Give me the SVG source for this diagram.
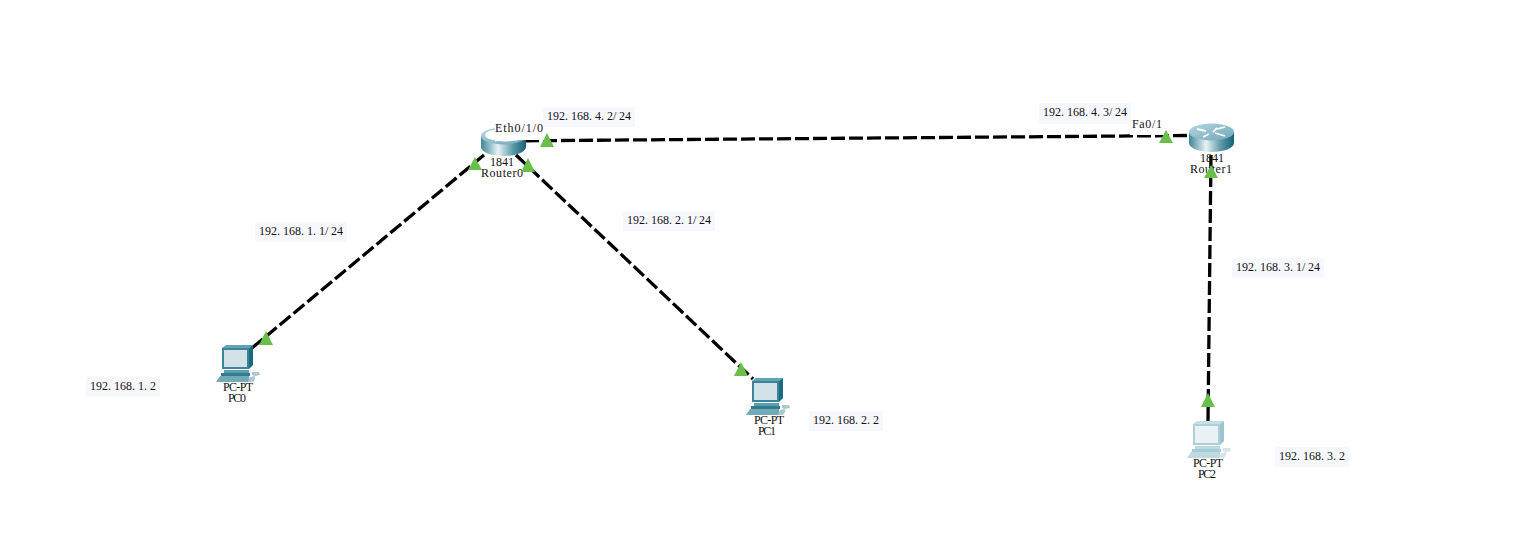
<svg xmlns="http://www.w3.org/2000/svg" width="1515" height="555" viewBox="0 0 1515 555">
<style>
text{font-family:"Liberation Serif","Noto Sans CJK SC",serif;font-size:12px;fill:#111;text-anchor:middle}
.ip{text-anchor:start}
.box{fill:#f7f8fe}
.link{fill:none;stroke:#000;stroke-width:3.300;stroke-dasharray:14 4}
.tri{fill:#6abf4b}
.wipe{fill:#fff}
</style>
<defs>
<linearGradient id="side" x1="0" x2="1" y1="0" y2="0">
<stop offset="0" stop-color="#3f8599"/><stop offset=".38" stop-color="#e8f2f4"/><stop offset=".7" stop-color="#5f9bab"/><stop offset="1" stop-color="#176177"/>
</linearGradient>
<linearGradient id="top" x1="0" x2="1" y1="0" y2="1">
<stop offset="0" stop-color="#b4d6e0"/><stop offset="1" stop-color="#6fa8b9"/>
</linearGradient>
<g id="router">
<path d="M0 9V20C0 25 10 29 22.500 29S45 25 45 20V9Z" fill="url(#side)"/>
<ellipse cx="22.500" cy="9" rx="22.500" ry="8.500" fill="url(#top)"/>
<path d="M8 6l9 2M14 14l6-3M24 9l4-4M26 10l10 3M36 4l-8 2" stroke="#fff" stroke-width="1.800" fill="none"/>
</g>
<g id="pc">
<path d="M6 3L10 0H37L33 3Z" fill="#62a4b6"/>
<path d="M33 3L37 0V20L33 24Z" fill="#1b6a80"/>
<rect x="6" y="3" width="27" height="21" fill="#3a8599"/>
<rect x="8" y="5" width="23" height="17" fill="#d3e2e9"/>
<rect x="8" y="25" width="25" height="3" fill="#5c9eb0"/>
<rect x="5" y="28" width="29" height="3" fill="#2f7c90"/>
<path d="M4 31H33L34 37H0Z" fill="#74a9b7"/>
<path d="M36 27h7l1 3-5 1-3-1zM34 32l5-1v3l-2 3h-5z" fill="#a9c8d0"/>
</g>
<g id="pcl">
<path d="M6 3L10 0H37L33 3Z" fill="#c6dfe7"/>
<path d="M33 3L37 0V20L33 24Z" fill="#9cc3cf"/>
<rect x="6" y="3" width="27" height="21" fill="#aed0db"/>
<rect x="8" y="5" width="23" height="17" fill="#e9f1f5"/>
<rect x="8" y="25" width="25" height="3" fill="#bcd8e0"/>
<rect x="5" y="28" width="29" height="3" fill="#a5cbd6"/>
<path d="M4 31H33L34 37H0Z" fill="#bfd9e0"/>
<path d="M36 27h7l1 3-5 1-3-1zM34 32l5-1v3l-2 3h-5z" fill="#d5e5ea"/>
</g>
</defs>
<rect width="1515" height="555" fill="#fff"/>
<g id="connectors">
<path class="link" d="M525 140.800L1190 135.500"/>
<path class="link" d="M252 348L484 155"/>
<path class="link" d="M516 155L753 379"/>
<path class="link" d="M1208 421L1211 152"/>
</g>
<g id="router0">
<use href="#router" x="481" y="127"/>
<ellipse class="wipe" cx="505" cy="135" rx="20" ry="6.500"/>
<rect class="wipe" x="495" y="122" width="49" height="18"/>
<text x="519" y="132" textLength="48" lengthAdjust="spacing">Eth0/1/0</text>
<text x="502" y="166" textLength="24" lengthAdjust="spacing">1841</text>
<text x="502" y="177" textLength="42" lengthAdjust="spacing">Router0</text>
</g>
<g id="router1">
<use href="#router" x="1189" y="123"/>
<rect class="wipe" x="1130" y="118" width="35" height="17"/>
<text x="1147" y="128" textLength="30" lengthAdjust="spacing">Fa0/1</text>
<text x="1212" y="162" textLength="24" lengthAdjust="spacing">1841</text>
<text x="1211" y="173" textLength="42" lengthAdjust="spacing">Router1</text>
</g>
<g id="pc0">
<use href="#pc" x="216" y="345"/>
<text x="238" y="391" textLength="30" lengthAdjust="spacing">PC-PT</text>
<text x="237" y="402" textLength="18" lengthAdjust="spacing">PC0</text>
</g>
<g id="pc1">
<use href="#pc" x="746" y="378"/>
<text x="769" y="424" textLength="30" lengthAdjust="spacing">PC-PT</text>
<text x="767" y="435" textLength="18" lengthAdjust="spacing">PC1</text>
</g>
<g id="pc2">
<use href="#pcl" x="1187" y="421"/>
<text x="1208" y="467" textLength="30" lengthAdjust="spacing">PC-PT</text>
<text x="1207" y="478" textLength="18" lengthAdjust="spacing">PC2</text>
</g>
<g id="markers">
<path class="tri" d="M547 133L554 147H540Z"/>
<path class="tri" d="M475 157L482 170H468Z"/>
<path class="tri" d="M528 158L535 172H521Z"/>
<path class="tri" d="M1166 130L1173 143H1159Z"/>
<path class="tri" d="M1211 165L1218 178H1204Z"/>
<path class="tri" d="M266 331L273 345H259Z"/>
<path class="tri" d="M741 362L748 376H734Z"/>
<path class="tri" d="M1208 393L1215 407H1201Z"/>
</g>
<g id="labels">
<rect class="box" x="543" y="107" width="92" height="20"/><text class="ip" x="547" y="120">192.<tspan dx="3">168.</tspan><tspan dx="3">4.</tspan><tspan dx="3">2/</tspan><tspan dx="2.700">24</tspan></text>
<rect class="box" x="1039" y="103" width="92" height="21"/><text class="ip" x="1043" y="116">192.<tspan dx="3">168.</tspan><tspan dx="3">4.</tspan><tspan dx="3">3/</tspan><tspan dx="2.700">24</tspan></text>
<rect class="box" x="255" y="222" width="92" height="20"/><text class="ip" x="259" y="235">192.<tspan dx="3">168.</tspan><tspan dx="3">1.</tspan><tspan dx="3">1/</tspan><tspan dx="2.700">24</tspan></text>
<rect class="box" x="623" y="211" width="92" height="20"/><text class="ip" x="627" y="224">192.<tspan dx="3">168.</tspan><tspan dx="3">2.</tspan><tspan dx="3">1/</tspan><tspan dx="2.700">24</tspan></text>
<rect class="box" x="1232" y="258" width="92" height="20"/><text class="ip" x="1236" y="271">192.<tspan dx="3">168.</tspan><tspan dx="3">3.</tspan><tspan dx="3">1/</tspan><tspan dx="2.700">24</tspan></text>
<rect class="box" x="86" y="377" width="74" height="20"/><text class="ip" x="90" y="390">192.<tspan dx="3">168.</tspan><tspan dx="3">1.</tspan><tspan dx="3">2</tspan></text>
<rect class="box" x="809" y="411" width="74" height="20"/><text class="ip" x="813" y="424">192.<tspan dx="3">168.</tspan><tspan dx="3">2.</tspan><tspan dx="3">2</tspan></text>
<rect class="box" x="1275" y="447" width="74" height="20"/><text class="ip" x="1279" y="460">192.<tspan dx="3">168.</tspan><tspan dx="3">3.</tspan><tspan dx="3">2</tspan></text>
</g>
</svg>
